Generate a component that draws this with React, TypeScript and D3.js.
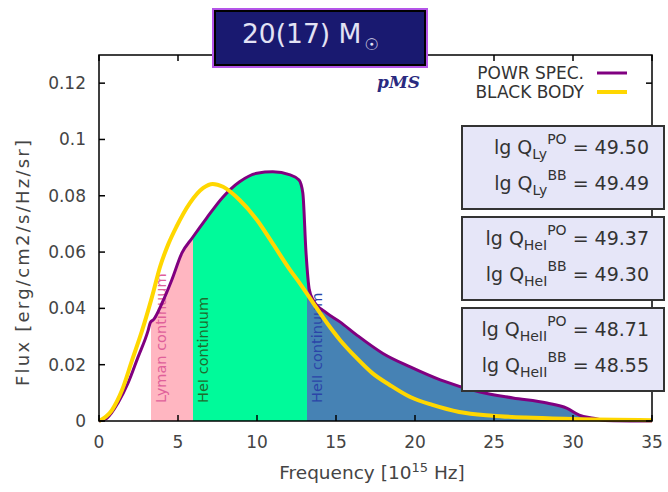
import React from 'react';
import * as d3 from 'd3';

// frequency in 10^15 Hz, flux in erg/cm2/s/Hz/sr
const powrFreq = [0, 0.5, 1.2, 1.84, 2.47, 3.1, 3.25, 3.45, 4.0, 4.6, 5.25, 5.9, 6.8, 7.85, 8.9, 10.0, 11.0, 12.1, 12.66, 12.9, 13.1, 13.3, 13.55, 14.4, 15.25, 16.3, 17.97, 19.7, 21.6, 24.1, 26.2, 28.35, 29.6, 30.4, 31.3, 32.0, 35];
const powrFlux = [0, 0.001, 0.0064, 0.0135, 0.0227, 0.032, 0.035, 0.036, 0.042, 0.050, 0.0597, 0.065, 0.072, 0.0796, 0.085, 0.088, 0.0885, 0.0874, 0.0856, 0.081, 0.06, 0.047, 0.043, 0.0384, 0.0352, 0.0306, 0.024, 0.0192, 0.0146, 0.0103, 0.0082, 0.0064, 0.0046, 0.0021, 0.001, 0.0002, 0];

const bbFreq = [0, 0.82, 1.46, 2.1, 2.72, 3.35, 3.86, 4.4, 4.9, 5.75, 6.6, 7.2, 7.85, 8.9, 10.0, 11.0, 12.1, 12.7, 13.55, 14.43, 15.25, 16.3, 17.3, 18.4, 19.7, 21.1, 22.8, 24.9, 27.0, 30.0, 35];
const bbFlux = [0, 0.0039, 0.011, 0.0217, 0.032, 0.044, 0.0547, 0.063, 0.069, 0.0774, 0.0828, 0.0842, 0.0832, 0.0785, 0.0714, 0.063, 0.0536, 0.049, 0.042, 0.0348, 0.0288, 0.0224, 0.017, 0.0128, 0.0085, 0.0057, 0.0032, 0.0019, 0.0012, 0.0007, 0.0003];

// ionisation edges (10^15 Hz)
const edgeNames = ['Lyman continuum', 'HeI continuum', 'HeII continuum'];
const edgeFrom = [3.29, 5.95, 13.16];
const edgeTo = [5.95, 13.16, 35];
const edgeFill = ['#ffb6c1', '#00fa9a', '#4682b4'];
const edgeText = ['#e0609a', '#1f6b2e', '#2b45a8'];

const xTicks = [0, 5, 10, 15, 20, 25, 30, 35];
const yTicks = [0, 0.02, 0.04, 0.06, 0.08, 0.1, 0.12];
const yTickLabels = ['0', '0.02', '0.04', '0.06', '0.08', '0.1', '0.12'];

const qSub = ['Ly', 'HeI', 'HeII'];
const qPO = ['49.50', '49.37', '48.71'];
const qBB = ['49.49', '49.30', '48.55'];

const W = 668, H = 492;
const M = { left: 99, right: 652, top: 55, bottom: 421 };
const font = 'DejaVu Sans';

export default function App() {
  const x = d3.scaleLinear().domain([0, 35]).range([M.left, M.right]);
  const y = d3.scaleLinear().domain([0, 0.13]).range([M.bottom, M.top]);

  const powr = powrFreq.map((f, i) => [f, powrFlux[i]] as [number, number]);
  const bb = bbFreq.map((f, i) => [f, bbFlux[i]] as [number, number]);

  const line = d3.line<[number, number]>().x(d => x(d[0])).y(d => y(d[1])).curve(d3.curveMonotoneX);
  const area = d3.area<[number, number]>().x(d => x(d[0])).y0(y(0)).y1(d => y(d[1])).curve(d3.curveMonotoneX);

  const boxTop = [126, 217, 308];

  return (
    <svg width={W} height={H} style={{ position: 'absolute', left: 0, top: 0 }} fontFamily={font}>
      <rect width={W} height={H} fill="#fff" />
      <defs>
        {edgeFrom.map((e, i) => (
          <clipPath id={`clip${i}`} key={i}>
            <rect x={x(e)} y={M.top} width={x(edgeTo[i]) - x(e)} height={M.bottom - M.top} />
          </clipPath>
        ))}
      </defs>

      {/* continua */}
      {edgeFrom.map((e, i) => (
        <path key={i} d={area(powr) || ''} fill={edgeFill[i]} clipPath={`url(#clip${i})`} />
      ))}
      {edgeFrom.map((e, i) => (
        <text key={i} transform={`translate(${x(e) + 15},${y(0) - 18}) rotate(-90)`} fontSize={14.5} fill={edgeText[i]}>
          {edgeNames[i]}
        </text>
      ))}

      {/* curves */}
      <path d={line(powr) || ''} fill="none" stroke="#800080" strokeWidth={3} />
      <path d={line(bb) || ''} fill="none" stroke="#ffd700" strokeWidth={4} />

      {/* frame and ticks */}
      <rect x={M.left} y={M.top} width={M.right - M.left} height={M.bottom - M.top} fill="none" stroke="#000" strokeWidth={1.5} />
      {xTicks.map(t => (
        <g key={t}>
          <line x1={x(t)} x2={x(t)} y1={M.bottom} y2={M.bottom - 6} stroke="#000" strokeWidth={1.5} />
          <line x1={x(t)} x2={x(t)} y1={M.top} y2={M.top + 6} stroke="#000" strokeWidth={1.5} />
          <text x={x(t)} y={448} textAnchor="middle" fontSize={17} fill="#444">{t}</text>
        </g>
      ))}
      {yTicks.map((t, i) => (
        <g key={t}>
          <line x1={M.left} x2={M.left + 6} y1={y(t)} y2={y(t)} stroke="#000" strokeWidth={1.5} />
          <line x1={M.right} x2={M.right - 6} y1={y(t)} y2={y(t)} stroke="#000" strokeWidth={1.5} />
          <text x={86} y={y(t) + 6} textAnchor="end" fontSize={17} fill="#444">{yTickLabels[i]}</text>
        </g>
      ))}

      {/* axis titles */}
      <text transform="translate(29,263) rotate(-90)" textAnchor="middle" fontSize={18} fill="#444" textLength={246} lengthAdjust="spacing">
        Flux [erg/cm2/s/Hz/sr]
      </text>
      <text x={372} y={479} textAnchor="middle" fontSize={18.5} fill="#444">
        Frequency [10<tspan dy={-7} fontSize={13}>15</tspan><tspan dy={7}> Hz]</tspan>
      </text>

      {/* title */}
      <rect x={213} y={9} width={214} height={58} fill="#191970" stroke="#b455e8" strokeWidth={2} />
      <rect x={215} y={11} width={210} height={54} fill="none" stroke="#000" strokeWidth={2} />
      <text x={242} y={43} fontSize={26.5} fill="#e2e2f4">
        20(17) M<tspan dx={3} dy={7} fontSize={16}>☉</tspan>
      </text>
      <text x={420} y={88} textAnchor="end" fontSize={17} fontStyle="italic" fontWeight="bold" fontFamily="DejaVu Serif" fill="#2a2a80">pMS</text>

      {/* legend */}
      <text x={584} y={79} textAnchor="end" fontSize={17} fill="#333">POWR SPEC.</text>
      <line x1={597} x2={627} y1={73} y2={73} stroke="#800080" strokeWidth={3} />
      <text x={584} y={98} textAnchor="end" fontSize={17} fill="#333">BLACK BODY</text>
      <line x1={597} x2={627} y1={92} y2={92} stroke="#ffd700" strokeWidth={4} />

      {/* rate boxes */}
      {qSub.map((s, i) => (
        <g key={s}>
          <rect x={462} y={boxTop[i]} width={202} height={83} fill="#e6e6f8" stroke="#333" strokeWidth={2} />
          <text x={649} y={boxTop[i] + 28} textAnchor="end" fontSize={19} fill="#333">
            lg Q<tspan dy={5} fontSize={14}>{s}</tspan><tspan dy={-15} fontSize={14}>PO</tspan><tspan dy={10}> = {qPO[i]}</tspan>
          </text>
          <text x={649} y={boxTop[i] + 64} textAnchor="end" fontSize={19} fill="#333">
            lg Q<tspan dy={5} fontSize={14}>{s}</tspan><tspan dy={-15} fontSize={14}>BB</tspan><tspan dy={10}> = {qBB[i]}</tspan>
          </text>
        </g>
      ))}
    </svg>
  );
}
